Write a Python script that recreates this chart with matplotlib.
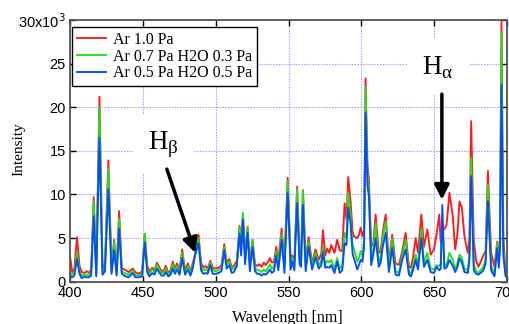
import matplotlib
matplotlib.use("Agg")
import matplotlib.pyplot as plt

# spectra (wavelength in nm, intensity in 1e3 counts)
wl = [400.0, 401.5, 403.0, 404.8, 406.5, 408.0, 410.0, 411.5, 413.0, 414.5,
      416.3, 418.0, 420.2, 422.3, 424.0, 426.3, 428.5, 430.3, 432.0, 433.7,
      435.5, 437.2, 438.5, 440.1, 441.5, 443.1, 444.8, 447.0, 449.5, 451.3,
      453.0, 454.5, 456.5, 458.0, 459.6, 461.5, 462.8, 464.5, 465.8, 467.5,
      469.0, 470.6, 472.0, 473.5, 475.2, 477.0, 479.0, 480.9, 482.7, 484.4,
      485.7, 488.2, 490.0, 491.5, 493.0, 494.5, 496.3, 498.0, 500.0, 502.0,
      504.0, 505.9, 507.5, 509.3, 511.0, 512.5, 514.5, 516.4, 517.5, 518.7,
      520.2, 521.9, 523.5, 525.3, 527.0, 528.5, 530.0, 531.5, 533.0, 534.5,
      536.0, 537.3, 538.5, 540.0, 541.6, 543.0, 545.3, 547.2, 549.4, 551.5,
      552.6, 554.0, 555.9, 557.6, 558.6, 559.9, 561.8, 563.8, 566.2, 568.5,
      570.8, 572.5, 573.7, 575.2, 576.6, 578.0, 579.3, 581.6, 583.4, 585.2,
      586.9, 588.5, 589.8, 591.0, 592.6, 594.0, 594.9, 597.2, 598.5, 599.5,
      600.8, 601.9, 602.9, 604.2, 605.2, 606.8, 608.3, 609.8, 612.0, 613.3,
      614.6, 616.7, 618.9, 621.2, 623.5, 625.8, 628.1, 630.4, 632.7, 634.0,
      635.5, 637.3, 638.9, 641.2, 643.0, 645.3, 647.6, 649.9, 651.7, 653.5,
      654.5, 655.6, 657.0, 658.5, 660.5, 662.8, 664.4, 666.0, 667.4, 669.0,
      670.8, 673.1, 674.2, 675.4, 677.2, 678.8, 680.4, 681.8, 683.4, 685.3,
      686.9, 689.1, 691.4, 693.3, 694.4, 695.2, 696.2, 697.5, 699.0, 700.0]

ar_10 = [2.9, 1.1, 1.5, 5.1, 1.8, 1.1, 1.0, 1.2, 1.0, 1.4,
         9.7, 1.0, 21.2, 1.5, 2.0, 13.9, 1.6, 4.8, 1.2, 8.1,
         1.6, 1.4, 1.3, 1.1, 1.3, 1.5, 1.1, 0.9, 1.2, 5.5,
         1.8, 1.2, 1.6, 1.3, 2.2, 1.6, 1.2, 1.3, 1.8, 1.0,
         1.3, 2.3, 1.5, 2.1, 1.3, 3.7, 1.3, 2.1, 1.2, 2.2,
         3.0, 5.4, 2.2, 1.6, 1.8, 1.5, 2.4, 1.6, 1.5, 1.6,
         1.9, 4.3, 2.2, 2.6, 1.7, 1.8, 2.4, 6.4, 4.0, 7.7,
         3.0, 6.3, 2.0, 4.8, 2.0, 1.8, 2.0, 1.7, 2.2, 1.9,
         2.3, 2.7, 2.2, 2.3, 4.0, 2.4, 6.1, 2.2, 11.9, 2.4,
         3.0, 2.3, 10.9, 3.0, 2.7, 10.5, 2.4, 5.1, 2.1, 3.7,
         2.5, 3.2, 5.9, 3.0, 3.8, 3.3, 4.2, 3.3, 4.8, 3.6,
         3.5, 9.0, 7.1, 12.0, 9.2, 5.8, 5.2, 5.0, 5.4, 6.2,
         5.2, 6.0, 23.3, 13.5, 11.7, 4.0, 4.5, 7.7, 3.3, 3.5,
         5.5, 7.7, 2.3, 5.4, 2.1, 1.9, 3.5, 5.6, 1.7, 1.6,
         2.8, 5.0, 3.3, 7.7, 4.0, 6.0, 3.1, 3.7, 5.5, 7.7,
         4.5, 6.5, 6.0, 6.5, 10.2, 7.5, 3.7, 5.5, 9.2, 8.5,
         5.2, 3.3, 5.0, 18.4, 4.8, 2.4, 1.7, 2.2, 2.9, 3.5,
         12.7, 3.3, 1.7, 4.6, 2.5, 5.0, 29.8, 5.0, 1.2, 1.0]

ar_07_h2o_03 = [1.0, 0.8, 1.0, 3.3, 1.2, 0.7, 0.8, 0.8, 0.7, 1.0,
                9.2, 0.8, 20.0, 1.2, 1.6, 13.0, 1.2, 4.6, 1.0, 7.2,
                1.2, 1.0, 0.9, 0.8, 1.0, 1.3, 0.8, 0.7, 0.9, 5.5,
                1.5, 0.9, 1.4, 1.1, 2.0, 1.3, 1.0, 1.0, 1.5, 0.8,
                1.0, 2.0, 1.2, 1.8, 1.0, 3.3, 1.0, 1.8, 1.0, 1.9,
                2.9, 5.0, 1.8, 1.3, 1.4, 1.2, 2.2, 1.3, 1.2, 1.3,
                1.6, 4.0, 1.9, 2.3, 1.4, 1.5, 2.1, 6.2, 3.6, 7.9,
                2.6, 6.2, 1.6, 4.7, 1.6, 1.3, 1.3, 1.1, 1.4, 1.2,
                1.6, 2.0, 1.5, 1.7, 3.5, 1.8, 5.5, 1.5, 11.5, 1.8,
                2.7, 1.7, 10.6, 2.5, 2.2, 10.4, 1.7, 4.6, 1.8, 3.3,
                1.9, 2.4, 4.0, 2.0, 2.4, 2.2, 2.5, 1.5, 2.7, 1.5,
                1.8, 5.6, 5.0, 10.2, 7.6, 4.2, 3.8, 2.3, 2.8, 3.5,
                3.0, 5.0, 22.3, 12.5, 10.5, 2.5, 3.8, 6.7, 2.2, 2.8,
                5.0, 6.9, 1.6, 5.0, 1.2, 1.0, 3.0, 4.8, 1.1, 0.9,
                1.8, 3.1, 2.0, 6.0, 2.2, 3.3, 1.5, 1.4, 1.9, 1.8,
                2.0, 7.0, 1.8, 2.0, 3.3, 2.5, 1.4, 2.2, 3.1, 2.8,
                1.5, 1.3, 3.0, 14.2, 2.0, 1.2, 1.0, 1.3, 1.6, 2.5,
                11.1, 1.8, 0.9, 4.4, 2.1, 4.5, 28.6, 4.0, 0.9, 0.8]

ar_05_h2o_05 = [0.7, 0.5, 0.7, 2.6, 0.9, 0.4, 0.6, 0.5, 0.5, 0.7,
                7.5, 0.6, 16.5, 0.8, 1.2, 10.6, 0.9, 3.6, 0.7, 6.1,
                0.9, 0.7, 0.6, 0.5, 0.7, 1.0, 0.5, 0.5, 0.6, 4.5,
                1.1, 0.6, 1.0, 0.8, 1.5, 1.0, 0.7, 0.7, 1.1, 0.6,
                0.8, 1.5, 0.9, 1.4, 0.8, 2.7, 0.8, 1.4, 0.7, 1.6,
                3.0, 4.4, 1.3, 0.9, 1.0, 0.9, 1.9, 0.9, 0.9, 1.0,
                1.2, 3.6, 1.5, 1.9, 1.0, 1.1, 1.8, 5.5, 3.0, 7.1,
                2.0, 5.6, 1.2, 4.0, 1.2, 0.9, 0.9, 0.7, 0.9, 0.8,
                1.1, 1.4, 1.0, 1.2, 3.0, 1.3, 4.8, 1.0, 10.2, 1.4,
                2.3, 1.3, 9.0, 2.0, 1.7, 8.8, 1.2, 4.0, 1.4, 2.8,
                1.5, 1.9, 3.4, 1.6, 1.7, 1.6, 1.9, 1.0, 2.3, 1.0,
                1.3, 4.4, 4.2, 8.5, 6.7, 3.2, 2.7, 1.4, 2.0, 2.5,
                2.3, 4.0, 19.4, 11.0, 9.8, 1.9, 3.2, 5.0, 1.7, 2.2,
                3.9, 5.6, 1.1, 3.9, 0.8, 0.7, 2.5, 3.7, 0.8, 0.6,
                1.3, 2.5, 1.4, 5.0, 1.7, 2.5, 1.1, 1.0, 1.7, 1.3,
                1.5, 8.8, 1.5, 1.6, 2.5, 1.8, 1.1, 1.7, 2.7, 2.2,
                1.1, 1.0, 2.5, 12.1, 1.3, 0.9, 0.8, 1.0, 1.2, 2.0,
                9.2, 1.3, 0.6, 3.85, 1.6, 3.8, 22.6, 3.0, 0.6, 0.5]

labels = ["Ar 1.0 Pa", "Ar 0.7 Pa H2O 0.3 Pa", "Ar 0.5 Pa H2O 0.5 Pa"]
colors = ["#ff1a1a", "#22dd22", "#0050f5"]
yticks = [0, 5, 10, 15, 20, 25, 30]
ytick_labels = ["0", "5", "10", "15", "20", "25", "30x10$^3$"]
xticks = [400, 450, 500, 550, 600, 650, 700]

serif = "Liberation Serif"
sans = "Liberation Sans"

fig = plt.figure(figsize=(5.10, 3.24), dpi=100)
ax = fig.add_axes([0.1373, 0.1306, 0.8568, 0.8077])

for y, lab, c in zip([ar_10, ar_07_h2o_03, ar_05_h2o_05], labels, colors):
    ax.plot(wl, y, color=c, lw=1.35, label=lab)

ax.set_xlim(400, 700)
ax.set_ylim(0, 30)
ax.set_xticks(xticks)
ax.set_yticks(yticks)
ax.set_xticklabels([str(t) for t in xticks], fontfamily=sans, fontsize=10.5)
ax.set_yticklabels(ytick_labels, fontfamily=sans, fontsize=10.5)
ax.tick_params(direction="in", top=True, right=True, length=4, width=1,
               color="black", pad=3)
for s in ax.spines.values():
    s.set_color("#555555")
    s.set_linewidth(1.3)

ax.grid(True, color="#a4a4ff", lw=0.75, linestyle=(0, (1.5, 1.2)))
ax.set_axisbelow(True)

leg = ax.legend(loc="upper left", bbox_to_anchor=(0.0046, 0.973),
                borderaxespad=0, prop={"family": serif, "size": 11.5},
                frameon=True, fancybox=False, handlelength=1.8,
                handletextpad=0.45, labelspacing=0.05, borderpad=0.3)
leg.get_frame().set_edgecolor("black")
leg.get_frame().set_linewidth(1.0)
leg.get_frame().set_alpha(1)

# H-alpha / H-beta labels with arrows
box = dict(boxstyle="square,pad=0.55", fc="white", ec="none")
ax.text(641.9, 23.8, "H$_\\mathregular{\u03b1}$", fontfamily=serif,
        fontsize=19.5, ha="left", va="baseline", bbox=box, zorder=3)
ax.text(453.4, 15.2, "H$_\\mathregular{\u03b2}$", fontfamily=serif,
        fontsize=19.5, ha="left", va="baseline", bbox=box, zorder=3)
arrow = dict(arrowstyle="-|>", lw=2.5, color="black", mutation_scale=22,
             shrinkA=0, shrinkB=0)
ax.annotate("", xy=(655.3, 9.4), xytext=(655.3, 21.5), arrowprops=arrow,
            zorder=4)
ax.annotate("", xy=(486.0, 3.3), xytext=(466.5, 12.9), arrowprops=arrow,
            zorder=4)

fig.text(19 / 510, 1 - 149 / 324, "Intensity", rotation=90, ha="center",
         va="center", fontfamily=serif, fontsize=11)
fig.text(287 / 510, 1 - 322 / 324, "Wavelength [nm]", ha="center",
         va="baseline", fontfamily=serif, fontsize=11.5)

fig.savefig("out.png", dpi=100)
